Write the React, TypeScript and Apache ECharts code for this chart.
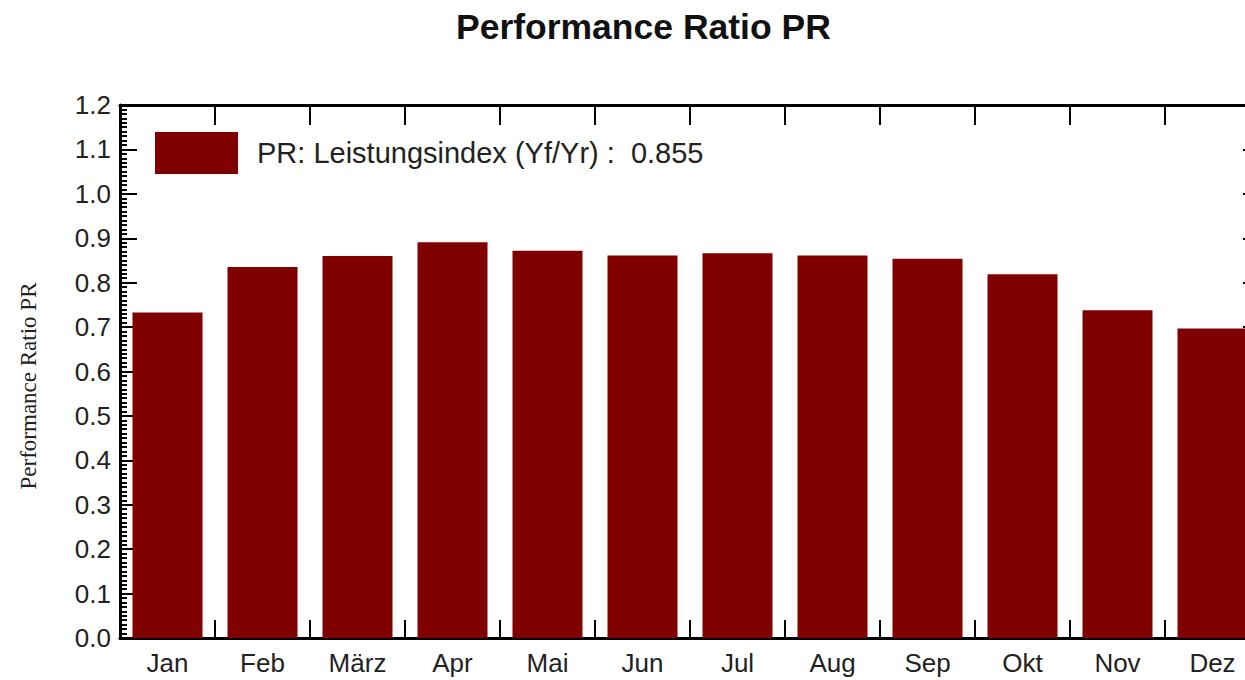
import React, { useEffect, useRef } from "react";
import * as echarts from "echarts";

const months = ["Jan", "Feb", "März", "Apr", "Mai", "Jun", "Jul", "Aug", "Sep", "Okt", "Nov", "Dez"];
const prValues = [0.733, 0.835, 0.86, 0.891, 0.872, 0.861, 0.866, 0.861, 0.854, 0.819, 0.738, 0.697];
const seriesName = "PR: Leistungsindex (Yf/Yr) :  0.855";
const titleText = "Performance Ratio PR";
const yAxisName = "Performance Ratio PR";

export default function App() {
  const ref = useRef<HTMLDivElement>(null);
  useEffect(() => {
    if (!ref.current) return;
    const chart = echarts.init(ref.current, null, { renderer: "svg" });
    const font = "Liberation Sans, Arial, sans-serif";
    const axisLine = { show: true, onZero: false, lineStyle: { color: "#000", width: 3 } };
    chart.setOption({
      animation: false,
      backgroundColor: "#fff",
      title: {
        text: titleText,
        left: 451,
        top: 4,
        textStyle: { fontFamily: font, fontSize: 35.5, fontWeight: "bold", color: "#111" },
      },
      legend: {
        left: 150,
        top: 127,
        itemWidth: 83,
        itemHeight: 42,
        icon: "rect",
        data: [seriesName],
        textStyle: { fontFamily: font, fontSize: 29, color: "#222", padding: [8, 0, 0, 14] },
      },
      graphic: [
        {
          type: "text",
          x: 28,
          y: 386,
          rotation: Math.PI / 2,
          style: {
            text: yAxisName,
            fontFamily: "Liberation Serif, Times New Roman, serif",
            fontSize: 23,
            fill: "#222",
            textAlign: "center",
            textVerticalAlign: "middle",
          },
        },
      ],
      grid: { left: 120, right: 40, top: 105, bottom: 42 },
      xAxis: [
        {
          type: "category",
          data: months,
          position: "bottom",
          axisLine: { ...axisLine },
          axisTick: { show: true, inside: true, length: 18, lineStyle: { color: "#000", width: 2 } },
          axisLabel: { fontFamily: font, fontSize: 26, color: "#222", margin: 12 },
        },
        {
          type: "category",
          data: months,
          position: "top",
          axisLine: { ...axisLine },
          axisTick: { show: true, inside: true, length: 20, lineStyle: { color: "#000", width: 2 } },
          axisLabel: { show: false },
        },
      ],
      yAxis: [
        {
          type: "value",
          min: 0,
          max: 1.2,
          interval: 0.1,
          position: "left",
          axisLine: { ...axisLine },
          axisTick: { show: true, inside: true, length: 17, lineStyle: { color: "#000", width: 2 } },
          minorTick: { show: true, splitNumber: 10, length: 7, lineStyle: { color: "#000", width: 2 } },
          splitLine: { show: false },
          axisLabel: {
            fontFamily: font,
            fontSize: 26,
            color: "#222",
            margin: 9,
            formatter: (v: number) => v.toFixed(1),
          },
        },
        {
          type: "value",
          min: 0,
          max: 1.2,
          interval: 0.1,
          position: "right",
          axisLine: { ...axisLine },
          axisTick: { show: true, inside: true, length: 17, lineStyle: { color: "#000", width: 2 } },
          minorTick: { show: true, splitNumber: 10, length: 7, lineStyle: { color: "#000", width: 2 } },
          splitLine: { show: false },
          axisLabel: { show: false },
        },
      ],
      series: [
        {
          name: seriesName,
          type: "bar",
          data: prValues,
          barWidth: 70,
          itemStyle: { color: "#800000" },
        },
      ],
    });
    return () => chart.dispose();
  }, []);
  return (
    <div style={{ position: "fixed", left: 0, top: 0, width: 1245, height: 680, overflow: "hidden", background: "#fff" }}>
      <div ref={ref} style={{ width: 1300, height: 680 }} />
    </div>
  );
}
